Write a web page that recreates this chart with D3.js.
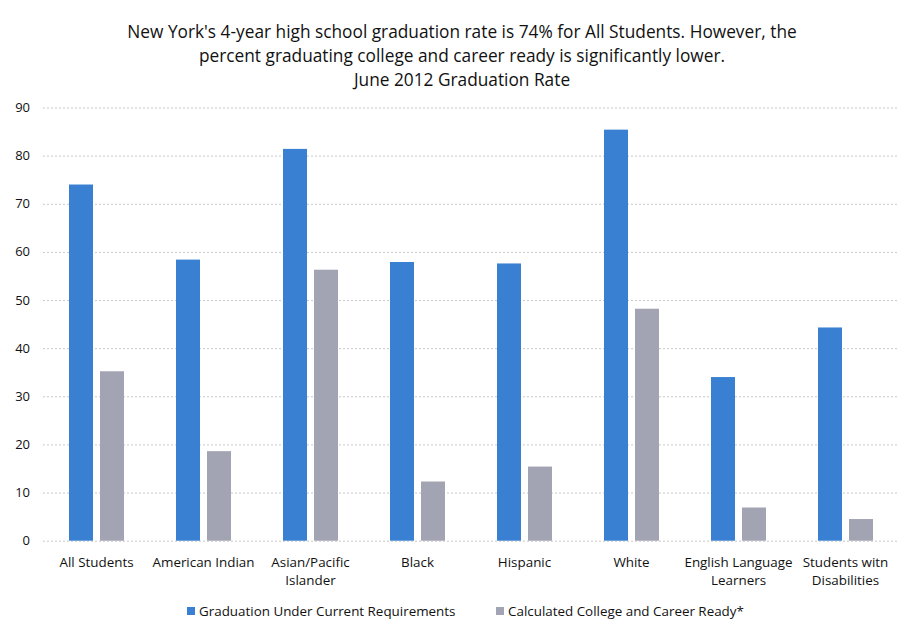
<!DOCTYPE html>
<html>
<head>
<meta charset="utf-8">
<script src="https://cdn.jsdelivr.net/npm/d3@7"></script>
<style>
  body { margin: 0; background: #fff; }
  text { font-family: "Open Sans", "Noto Sans", sans-serif; fill: #111; }
  .grid line { stroke: #c8c8c8; stroke-dasharray: 2,2; }
  .grid path { display: none; }
</style>
</head>
<body>
<div id="chart"></div>
<script>
// chart values
var categories = ["All Students", "American Indian", "Asian/Pacific Islander", "Black",
                  "Hispanic", "White", "English Language Learners", "Students witn Disabilities"];
var categoryLines = [["All Students"], ["American Indian"], ["Asian/Pacific", "Islander"], ["Black"],
                     ["Hispanic"], ["White"], ["English Language", "Learners"], ["Students witn", "Disabilities"]];
var gradCurrent = [74, 58.4, 81.4, 57.9, 57.6, 85.4, 34, 44.3];
var collegeReady = [35.2, 18.6, 56.3, 12.3, 15.4, 48.2, 6.9, 4.5];
var seriesNames = ["Graduation Under Current Requirements", "Calculated College and Career Ready*"];
var yTicks = [0, 10, 20, 30, 40, 50, 60, 70, 80, 90];
var titleLines = ["New York's 4-year high school graduation rate is 74% for All Students. However, the",
                  "percent graduating college and career ready is significantly lower.",
                  "June 2012 Graduation Rate"];

var fullWidth = 906, fullHeight = 631;
var margin = {top: 107.5, right: 7, bottom: 90.3, left: 43},
    width = fullWidth - margin.left - margin.right,
    height = fullHeight - margin.top - margin.bottom;
var colors = ["#3a80d2", "#a2a3b3"];

var svg = d3.select("#chart").append("svg")
    .attr("width", fullWidth)
    .attr("height", fullHeight);

svg.append("g").selectAll("text")
    .data(titleLines)
    .enter().append("text")
    .attr("x", 462)
    .attr("y", function(d, i) { return 38 + i * 24; })
    .attr("text-anchor", "middle")
    .style("font-size", "17.3px")
    .text(function(d) { return d; });

var g = svg.append("g")
    .attr("transform", "translate(" + margin.left + "," + margin.top + ")");

var x0 = d3.scaleBand().domain(categories).range([0, width]).padding(0);
var y = d3.scaleLinear().domain([0, 90]).range([height, 0]);

g.append("g")
    .attr("class", "grid")
    .call(d3.axisLeft(y).tickValues(yTicks).tickSize(-width).tickFormat(""));

yTicks.forEach(function(t) {
  g.append("text")
      .attr("x", -13)
      .attr("y", y(t) + 4.5)
      .attr("text-anchor", "end")
      .style("font-size", "13px")
      .text(t);
});

var barW = 24, gap = 7;
var groups = g.selectAll(".grp")
    .data(categories)
    .enter().append("g")
    .attr("class", "grp")
    .attr("transform", function(d) { return "translate(" + (x0(d) + x0.bandwidth() / 2) + ",0)"; });

groups.append("rect")
    .attr("x", -barW - gap / 2)
    .attr("width", barW)
    .attr("y", function(d, i) { return y(gradCurrent[i]); })
    .attr("height", function(d, i) { return height - y(gradCurrent[i]); })
    .attr("fill", colors[0]);

groups.append("rect")
    .attr("x", gap / 2)
    .attr("width", barW)
    .attr("y", function(d, i) { return y(collegeReady[i]); })
    .attr("height", function(d, i) { return height - y(collegeReady[i]); })
    .attr("fill", colors[1]);

groups.each(function(d, i) {
  d3.select(this).selectAll("text")
      .data(categoryLines[i])
      .enter().append("text")
      .attr("x", 0)
      .attr("y", function(t, j) { return height + 26 + j * 18; })
      .attr("text-anchor", "middle")
      .style("font-size", "13.4px")
      .text(function(t) { return t; });
});

var legendX = [187, 496];
var legend = svg.append("g");
seriesNames.forEach(function(name, i) {
  legend.append("rect")
      .attr("x", legendX[i]).attr("y", 607)
      .attr("width", 8).attr("height", 8)
      .attr("fill", colors[i]);
  legend.append("text")
      .attr("x", legendX[i] + 12).attr("y", 616)
      .style("font-size", "13.4px")
      .text(name);
});
</script>
</body>
</html>
